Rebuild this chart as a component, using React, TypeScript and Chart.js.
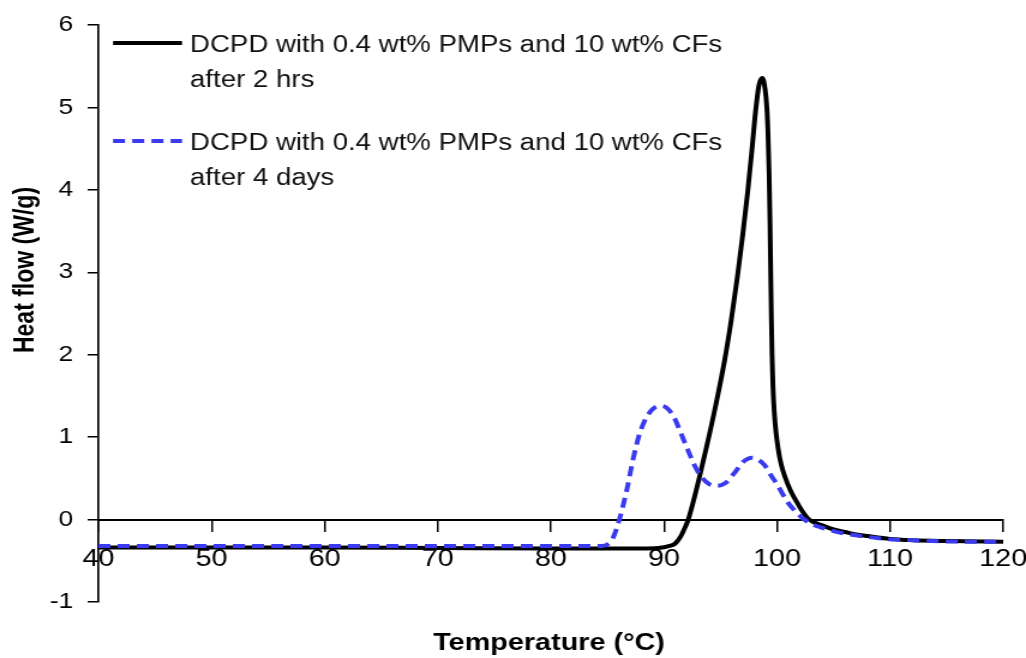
import React, { useEffect, useRef } from 'react';
import { Chart, registerables } from 'chart.js';

Chart.register(...registerables);

// ---- data ----
const tempBlack = [40, 50, 60, 70, 80, 88, 89.5, 90.5, 91, 91.5, 91.85, 92.15, 92.6, 93.2, 93.8, 94.6, 95.35, 95.95, 96.5, 96.98, 97.4, 97.77, 98.1, 98.4, 98.7, 98.95, 99.1, 99.2, 99.3, 99.38, 99.44, 99.5, 99.56, 99.64, 99.75, 99.9, 100.1, 100.35, 100.7, 101.2, 101.8, 102.3, 102.85, 104, 105, 106, 107, 108, 110, 112, 115, 120];
const heatBlack = [-0.34, -0.34, -0.34, -0.345, -0.35, -0.35, -0.345, -0.32, -0.29, -0.2, -0.1, 0.0, 0.22, 0.55, 0.9, 1.4, 1.92, 2.42, 2.95, 3.47, 3.97, 4.47, 4.95, 5.27, 5.36, 5.22, 5.0, 4.7, 4.2, 3.6, 3.0, 2.45, 2.0, 1.62, 1.32, 1.07, 0.86, 0.68, 0.52, 0.35, 0.2, 0.09, 0.0, -0.07, -0.12, -0.15, -0.18, -0.2, -0.235, -0.25, -0.26, -0.27];

const tempBlue = [40, 50, 60, 70, 80, 84.5, 84.9, 85.5, 86.1, 86.7, 87.3, 87.8, 88.3, 89, 89.7, 90.3, 90.9, 91.5, 92.1, 92.7, 93.3, 94, 94.7, 95.4, 96.2, 97, 97.8, 98.4, 98.9, 99.5, 100, 100.5, 101, 101.5, 102, 102.4, 103, 104, 105, 106, 108, 110, 112, 115, 120];
const heatBlue = [-0.32, -0.32, -0.32, -0.32, -0.32, -0.32, -0.31, -0.22, 0.02, 0.35, 0.75, 1.02, 1.2, 1.34, 1.38, 1.35, 1.24, 1.05, 0.85, 0.66, 0.52, 0.43, 0.41, 0.44, 0.56, 0.7, 0.75, 0.72, 0.66, 0.53, 0.43, 0.31, 0.2, 0.12, 0.05, 0.0, -0.05, -0.1, -0.14, -0.17, -0.21, -0.24, -0.25, -0.265, -0.27];

const xMin = 40;
const xMax = 120;
const xStep = 10;
const yMin = -1;
const yMax = 6;
const yStep = 1;

const seriesNames = [
  ['DCPD with 0.4 wt% PMPs and 10 wt% CFs', 'after 2 hrs'],
  ['DCPD with 0.4 wt% PMPs and 10 wt% CFs', 'after 4 days'],
];
const xTitle = 'Temperature (°C)';
const yTitle = 'Heat flow (W/g)';

// ---- presentation ----
const W = 1026;
const H = 658;
const SX = 1.2; // the reference is stretched horizontally
const IW = Math.round(W / SX);
const FONT = "'Liberation Sans', Arial, sans-serif";
const BLACK = '#000000';
const BLUE = '#3a3af0';

const decorPlugin = {
  id: 'decor',
  afterDraw(chart: any) {
    const ctx = chart.ctx as CanvasRenderingContext2D;
    ctx.save();
    // legend
    const lx1 = 113 / SX;
    const lx2 = 182 / SX;
    const tx = 190 / SX;
    const entries = [
      { y: 43, base: [52, 87], color: BLACK, dash: [] as number[] },
      { y: 141, base: [150, 185], color: BLUE, dash: [10, 6] },
    ];
    entries.forEach((e, i) => {
      ctx.beginPath();
      ctx.setLineDash(e.dash);
      ctx.strokeStyle = e.color;
      ctx.lineWidth = 4;
      ctx.moveTo(lx1, e.y);
      ctx.lineTo(lx2, e.y);
      ctx.stroke();
      ctx.setLineDash([]);
      ctx.fillStyle = '#111';
      ctx.font = `23px ${FONT}`;
      ctx.textAlign = 'left';
      ctx.textBaseline = 'alphabetic';
      seriesNames[i].forEach((line, j) => ctx.fillText(line, tx, e.base[j]));
    });
    // axis titles
    ctx.fillStyle = '#000';
    ctx.font = `bold 24px ${FONT}`;
    ctx.textAlign = 'center';
    ctx.textBaseline = 'alphabetic';
    ctx.fillText(xTitle, 549 / SX, 650);
    ctx.save();
    ctx.translate(26 / SX, 270);
    ctx.rotate(-Math.PI / 2);
    ctx.font = `bold 23px ${FONT}`;
    ctx.textBaseline = 'middle';
    ctx.fillText(yTitle, 0, 0);
    ctx.restore();
    ctx.restore();
  },
};

export default function App() {
  const ref = useRef<HTMLCanvasElement | null>(null);

  useEffect(() => {
    if (!ref.current) return;
    const chart = new Chart(ref.current, {
      type: 'line',
      data: {
        datasets: [
          {
            label: seriesNames[0].join(' '),
            data: tempBlack.map((t, i) => ({ x: t, y: heatBlack[i] })),
            borderColor: BLACK,
            borderWidth: 4,
            pointRadius: 0,
            cubicInterpolationMode: 'monotone',
            order: 1,
          },
          {
            label: seriesNames[1].join(' '),
            data: tempBlue.map((t, i) => ({ x: t, y: heatBlue[i] })),
            borderColor: BLUE,
            borderWidth: 4,
            borderDash: [10, 6],
            pointRadius: 0,
            cubicInterpolationMode: 'monotone',
            order: 0,
          },
        ],
      },
      options: {
        responsive: false,
        devicePixelRatio: 1,
        animation: false,
        events: [],
        layout: { padding: { left: 0, top: 24, right: 19, bottom: 56 } },
        plugins: { legend: { display: false }, tooltip: { enabled: false }, title: { display: false } },
        scales: {
          x: {
            type: 'linear',
            min: xMin,
            max: xMax,
            position: { y: 0 } as any,
            ticks: { stepSize: xStep, color: '#000', font: { family: FONT, size: 24 }, padding: 14, maxRotation: 0 },
            grid: { drawOnChartArea: false, drawTicks: true, tickLength: 11, color: '#000', lineWidth: 1.5 },
            border: { display: true, color: '#000', width: 2 },
            afterFit: (s: any) => { s.paddingLeft = 0; s.paddingRight = 0; },
          },
          y: {
            type: 'linear',
            min: yMin,
            max: yMax,
            ticks: { stepSize: yStep, color: '#000', font: { family: FONT, size: 22 }, padding: 12 },
            grid: { drawOnChartArea: false, drawTicks: true, tickLength: 9, color: '#000', lineWidth: 1.5 },
            border: { display: true, color: '#000', width: 1.7 },
            afterFit: (s: any) => { s.width = 82; },
          },
        },
      },
      plugins: [decorPlugin],
    } as any);
    return () => chart.destroy();
  }, []);

  return (
    <div style={{ position: 'fixed', left: 0, top: 0, width: W, height: H, background: '#fff' }}>
      <canvas ref={ref} width={IW} height={H} style={{ width: `${W}px`, height: `${H}px`, display: 'block' }} />
    </div>
  );
}
